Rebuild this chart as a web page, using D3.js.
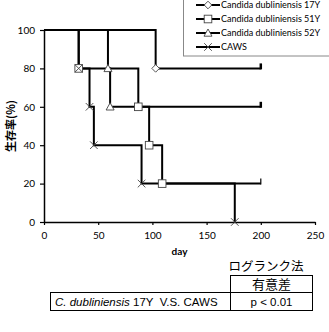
<!DOCTYPE html>
<html>
<head>
<meta charset="utf-8">
<script src="https://cdn.jsdelivr.net/npm/d3@7"></script>
<style>
  body { margin: 0; background: #fff; }
  svg { display: block; }
</style>
</head>
<body>
<div id="chart"></div>
<script>
// survival data (day of event, survival %)
const seriesNames = ['Candida dubliniensis 17Y', 'Candida dubliniensis 51Y', 'Candida dubliniensis 52Y', 'CAWS'];
const days17 = [0, 103, 200];
const surv17 = [100, 80, 80];
const days51 = [0, 32, 87, 97, 109, 200];
const surv51 = [100, 80, 60, 40, 20, 20];
const days52 = [0, 59, 61, 200];
const surv52 = [100, 80, 60, 60];
const daysCAWS = [0, 32, 42, 46, 90, 176];
const survCAWS = [100, 80, 60, 40, 20, 0];
const xTicks = [0, 50, 100, 150, 200, 250];
const yTicks = [0, 20, 40, 60, 80, 100];
const tableTitle = 'ログランク法';
const tableHeader = '有意差';
const tableRowLabel = ['C. dubliniensis', ' 17Y  V.S. CAWS'];
const tableRowValue = 'p < 0.01';

const width = 329, height = 332;
const margin = { left: 44, right: 14, top: 30, bottom: 110 };

const svg = d3.select('#chart').append('svg')
    .attr('width', width)
    .attr('height', height);

const x = d3.scaleLinear().domain([0, 250]).range([margin.left, width - margin.right]);
const y = d3.scaleLinear().domain([0, 100]).range([height - margin.bottom, margin.top]);

const series = [
    { name: seriesNames[0], days: days17, surv: surv17, shape: 'diamond' },
    { name: seriesNames[1], days: days51, surv: surv51, shape: 'square' },
    { name: seriesNames[2], days: days52, surv: surv52, shape: 'triangle' },
    { name: seriesNames[3], days: daysCAWS, surv: survCAWS, shape: 'cross' }
];

function drawMarker(g, shape, cx, cy) {
    if (shape === 'diamond') {
        g.append('path').attr('d', `M${cx},${cy - 3.8}L${cx + 3.8},${cy}L${cx},${cy + 3.8}L${cx - 3.8},${cy}Z`)
            .attr('fill', '#fff').attr('stroke', '#444').attr('stroke-width', 0.9);
    } else if (shape === 'square') {
        g.append('rect').attr('x', cx - 3.8).attr('y', cy - 3.8).attr('width', 7.6).attr('height', 7.6)
            .attr('fill', '#fff').attr('stroke', '#444').attr('stroke-width', 0.9);
    } else if (shape === 'triangle') {
        g.append('path').attr('d', `M${cx},${cy - 4}L${cx + 4},${cy + 3.2}L${cx - 4},${cy + 3.2}Z`)
            .attr('fill', '#fff').attr('stroke', '#444').attr('stroke-width', 0.9);
    } else {
        g.append('path').attr('d', `M${cx - 3.8},${cy - 3.8}L${cx + 3.8},${cy + 3.8}M${cx - 3.8},${cy + 3.8}L${cx + 3.8},${cy - 3.8}`)
            .attr('fill', 'none').attr('stroke', '#444').attr('stroke-width', 0.9);
    }
}

// axes
const yAxis = svg.append('g')
    .attr('transform', `translate(${margin.left},0)`)
    .call(d3.axisLeft(y).tickValues(yTicks).tickSize(4).tickSizeOuter(0).tickPadding(5));
const xAxis = svg.append('g')
    .attr('transform', `translate(0,${y(0)})`)
    .call(d3.axisBottom(x).tickValues(xTicks).tickSize(3).tickSizeOuter(0).tickPadding(7));
[xAxis, yAxis].forEach(a => {
    a.select('.domain').attr('stroke', '#000').attr('stroke-width', 1.5);
    a.selectAll('.tick line').attr('stroke', '#000').attr('stroke-width', 1.2);
    a.selectAll('.tick text').attr('font-family', 'Lato, sans-serif').attr('font-size', 10).attr('fill', '#000');
});

// survival steps
const line = d3.line()
    .x(d => x(d[0]))
    .y(d => y(d[1]))
    .curve(d3.curveStepAfter);

series.forEach(s => {
    const pts = s.days.map((d, i) => [d, s.surv[i]]);
    svg.append('path')
        .datum(pts)
        .attr('d', line)
        .attr('fill', 'none')
        .attr('stroke', '#000')
        .attr('stroke-width', 2);
    const last = pts[pts.length - 1];
    if (last[1] > 0) {
        svg.append('line')
            .attr('x1', x(last[0])).attr('x2', x(last[0]))
            .attr('y1', y(last[1]) + 1).attr('y2', y(last[1]) - 5)
            .attr('stroke', '#000').attr('stroke-width', last[1] >= 60 ? 2.5 : 1.2);
    }
});
series.forEach(s => {
    const g = svg.append('g');
    s.days.forEach((d, i) => {
        if (i === 0) return;
        if (i === s.days.length - 1 && s.surv[i] === s.surv[i - 1]) return;
        drawMarker(g, s.shape, x(d), y(s.surv[i]));
    });
});

// legend
const lg = svg.append('g');
lg.append('rect')
    .attr('x', 183.5).attr('y', -2).attr('width', 160).attr('height', 58)
    .attr('fill', '#fff').attr('stroke', '#888').attr('stroke-width', 1);
series.forEach((s, i) => {
    const ly = 5 + i * 14;
    lg.append('line').attr('x1', 196).attr('x2', 220).attr('y1', ly).attr('y2', ly)
        .attr('stroke', '#000').attr('stroke-width', 2);
    drawMarker(lg, s.shape, 208, ly);
    lg.append('text').attr('x', 221).attr('y', ly).attr('dy', '0.35em')
        .attr('font-family', 'Lato, sans-serif').attr('font-size', 9)
        .text(s.name);
});

// axis titles
svg.append('text')
    .attr('x', x(125)).attr('y', 255)
    .attr('text-anchor', 'middle')
    .attr('font-family', 'Lato, sans-serif').attr('font-weight', 'bold').attr('font-size', 10)
    .text('day');
svg.append('text')
    .attr('transform', `translate(15,${y(50)}) rotate(-90)`)
    .attr('text-anchor', 'middle')
    .attr('font-family', '"Noto Sans CJK JP", sans-serif').attr('font-weight', 'bold').attr('font-size', 11)
    .text('生存率(%)');

// log-rank table
const t = svg.append('g').attr('font-family', '"Liberation Sans", Arial, sans-serif');
t.append('text').attr('x', 266).attr('y', 271).attr('text-anchor', 'middle')
    .attr('font-family', '"Noto Sans CJK JP", sans-serif').attr('font-size', 12.5)
    .text(tableTitle);
t.append('rect').attr('x', 230.5).attr('y', 275.5).attr('width', 82).attr('height', 17)
    .attr('fill', 'none').attr('stroke', '#000').attr('stroke-width', 1);
t.append('text').attr('x', 271.5).attr('y', 289).attr('text-anchor', 'middle')
    .attr('font-family', '"Noto Sans CJK JP", sans-serif').attr('font-size', 13)
    .text(tableHeader);
t.append('rect').attr('x', 50.5).attr('y', 292.5).attr('width', 262).attr('height', 18)
    .attr('fill', 'none').attr('stroke', '#000').attr('stroke-width', 1);
t.append('line').attr('x1', 230.5).attr('x2', 230.5).attr('y1', 292.5).attr('y2', 310.5)
    .attr('stroke', '#000');
const rowText = t.append('text').attr('x', 55).attr('y', 306).attr('font-size', 11.5);
rowText.append('tspan').attr('font-style', 'italic').text(tableRowLabel[0]);
rowText.append('tspan').style('white-space', 'pre').text(tableRowLabel[1]);
t.append('text').attr('x', 271.5).attr('y', 306).attr('text-anchor', 'middle').attr('font-size', 11.5)
    .text(tableRowValue);
</script>
</body>
</html>
